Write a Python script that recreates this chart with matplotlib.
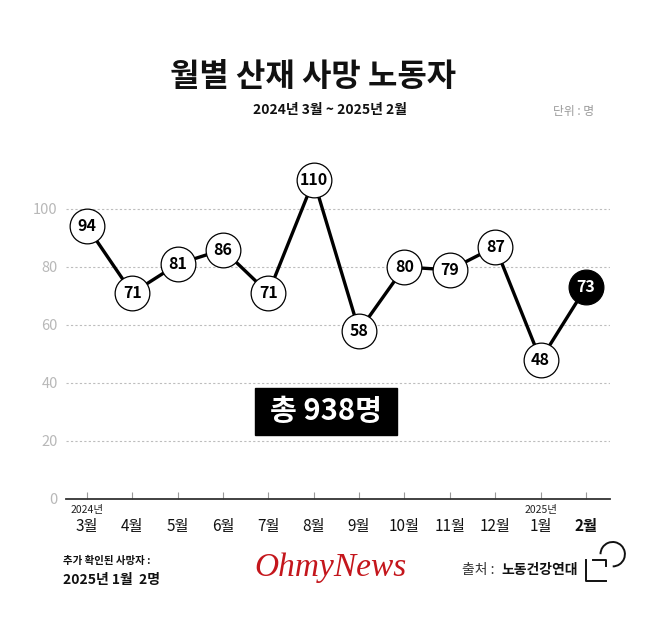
import matplotlib
matplotlib.use("Agg")
import matplotlib.pyplot as plt
from matplotlib.patches import Rectangle, Arc
from matplotlib.lines import Line2D
import matplotlib.transforms as mtransforms

plt.rcParams['font.family'] = ['Noto Sans CJK KR', 'DejaVu Sans']

# data
months = ['3월', '4월', '5월', '6월', '7월', '8월', '9월', '10월', '11월', '12월', '1월', '2월']
deaths = [94, 71, 81, 86, 71, 110, 58, 80, 79, 87, 48, 73]
year_labels = {0: '2024년', 10: '2025년'}
yticks = [0, 20, 40, 60, 80, 100]
total_text = '총 938명'

W, H = 658, 631
fig = plt.figure(figsize=(W / 100, H / 100), dpi=100)


def fx(px):
    return px / W


def fy(py):
    return 1 - py / H


# axes placed so that 0 -> y 499px, 100 -> y 209px
ax = fig.add_axes([fx(66), fy(499), fx(610) - fx(66), fy(165.5) - fy(499)])
x = list(range(len(months)))
ax.set_xlim(-0.46, 11.53)
ax.set_ylim(0, 115)

for s in ['top', 'right', 'left']:
    ax.spines[s].set_visible(False)
ax.spines['bottom'].set_color('#333333')
ax.spines['bottom'].set_linewidth(1.3)

ax.set_yticks(yticks)
ax.set_yticklabels([str(v) for v in yticks], color='#b8b8b8', fontsize=10.5,
                   fontweight='light')
ax.tick_params(axis='y', length=0, pad=6)
for v in yticks[1:]:
    ax.axhline(v, color='#bdbdbd', lw=0.8, ls=(0, (2, 2)), zorder=1)

ax.set_xticks(x)
ax.set_xticklabels(months, fontsize=11, color='#111111')
ax.get_xticklabels()[-1].set_fontweight('bold')
ax.tick_params(axis='x', direction='in', length=5, color='#999999', pad=14)

trans = mtransforms.blended_transform_factory(ax.transData, ax.transAxes)
for i, lab in year_labels.items():
    ax.text(i, -0.032, lab, transform=trans, ha='center', va='center',
            fontsize=7.5, color='#222222')

ax.plot(x, deaths, color='black', lw=2.4, zorder=2, solid_capstyle='butt')
for i, v in zip(x, deaths):
    last = i == len(deaths) - 1
    ax.plot(i, v, 'o', ms=25, mfc='black' if last else 'white', mec='black',
            mew=0.9, zorder=3, clip_on=False)
    ax.text(i, v, str(v), ha='center', va='center', fontsize=11.5,
            fontweight='bold', color='white' if last else 'black', zorder=4)

# total box
fig.patches.append(Rectangle((fx(255), fy(435)), fx(397) - fx(255), fy(388) - fy(435),
                             transform=fig.transFigure, color='black', zorder=5))
fig.text(fx(326), fy(411), total_text, ha='center', va='center', fontsize=21,
         fontweight='bold', color='white', zorder=6)

# titles
fig.text(fx(313), fy(77), '월별 산재 사망 노동자', ha='center', va='center',
         fontsize=23, fontweight='bold', color='#111111')
fig.text(fx(330), fy(110), '2024년 3월 ~ 2025년 2월', ha='center', va='center',
         fontsize=10, fontweight='bold', color='#111111')
fig.text(fx(594), fy(111), '단위 : 명', ha='right', va='center',
         fontsize=8.5, color='#9a9a9a')

# footer
fig.text(fx(63), fy(561), '추가 확인된 사망자 :', ha='left', va='center',
         fontsize=7.5, fontweight='bold', color='#111111')
fig.text(fx(63), fy(580), '2025년 1월  2명', ha='left', va='center',
         fontsize=10, fontweight='bold', color='#111111')
fig.text(fx(330), fy(568), 'OhmyNews', ha='center', va='center',
         fontsize=24, family='Liberation Serif', style='italic', color='#c4161c')
fig.text(fx(462), fy(570), '출처 : ', ha='left', va='center',
         fontsize=10, color='#333333')
fig.text(fx(501), fy(570), '노동건강연대', ha='left', va='center',
         fontsize=10, fontweight='bold', color='#111111')

# source logo
lw = 1.4
fig.add_artist(Line2D([fx(586), fx(586), fx(606)], [fy(559.5), fy(580.5), fy(580.5)],
                      color='#111111', lw=lw, transform=fig.transFigure))
fig.add_artist(Line2D([fx(593), fx(606), fx(606)], [fy(559.5), fy(559.5), fy(566)],
                      color='#111111', lw=lw, transform=fig.transFigure))
fig.add_artist(Arc((fx(612.7), fy(554.2)), 2 * 12.2 / W, 2 * 12.2 / H,
                   theta1=-90, theta2=180, color='#111111', lw=lw,
                   transform=fig.transFigure))

fig.savefig('out.png', dpi=100, facecolor='white')
